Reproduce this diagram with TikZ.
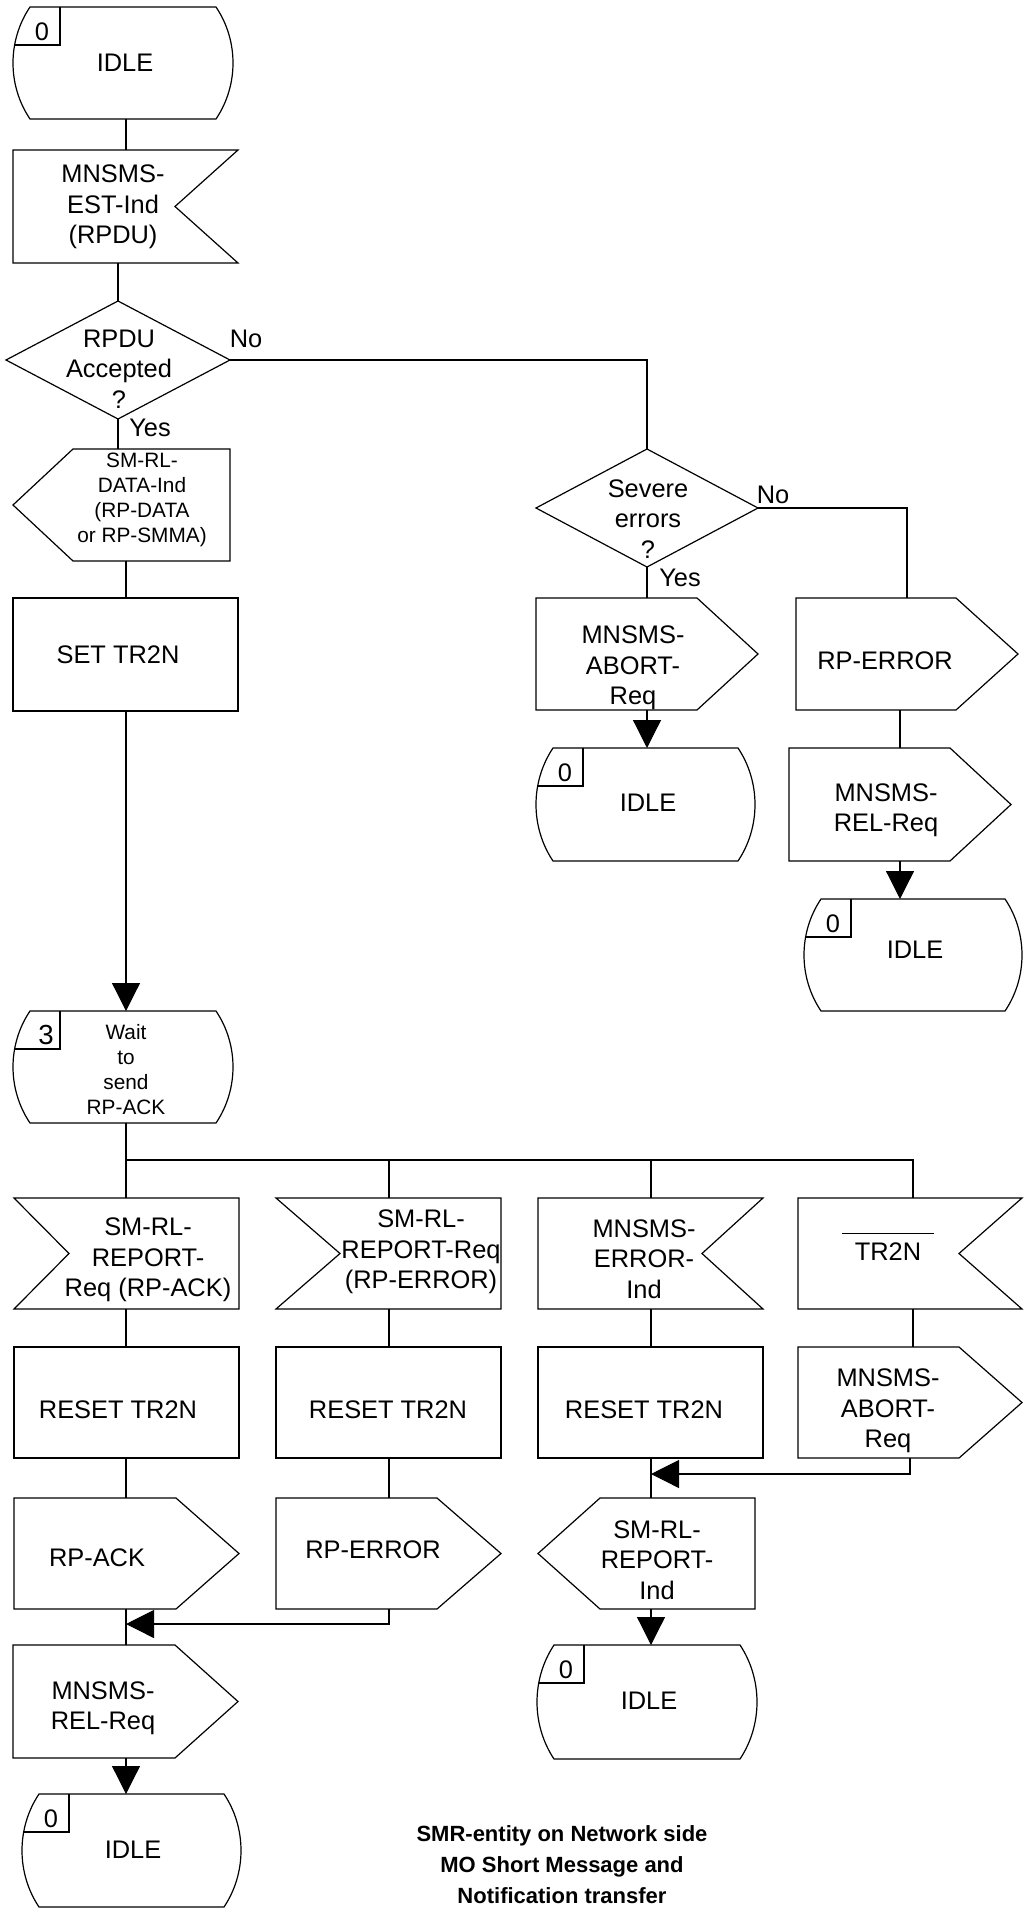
\documentclass[tikz,border=0pt]{standalone}
\usepackage{fontspec}
\setmainfont{Liberation Sans}
\usetikzlibrary{arrows.meta}
\tikzset{
 ln/.style={line width=0.6pt, line join=miter},
 shp/.style={draw=none, inner sep=0pt, outer sep=0pt, rectangle},
 txt/.style={inner sep=0pt, align=center, font=\fontsize{12.7}{15.2}\selectfont},
 smalltxt/.style={inner sep=0pt, align=center, font=\fontsize{10.4}{12.5}\selectfont},
 titletxt/.style={inner sep=0pt, align=center, font=\bfseries\fontsize{11}{15.5}\selectfont},
 bignum/.style={font=\fontsize{13.8}{15}\selectfont, xshift=2pt, yshift=0.5pt},
 conn/.style={line width=0.6pt},
 arr/.style={line width=0.6pt, -{Triangle[length=14pt,width=14pt]}},
}
\newcommand\sdlNode[5]{\node[shp,minimum width={(#4-(#2))*0.5pt},minimum height={(#5-(#3))*0.5pt}] (#1) at ({(#2+#4)/2},{(#3+#5)/2}) {};}
\newcommand\sdlTask[5]{\sdlNode{#1}{#2}{#3}{#4}{#5}\draw[ln] (#1.north west) rectangle (#1.south east);}
\newcommand\sdlOutR[6]{\sdlNode{#1}{#2}{#3}{#4}{#5}\draw[ln] (#1.north west) -- ({#6},{#3}) -- (#1.east) -- ({#6},{#5}) -- (#1.south west) -- cycle;}
\newcommand\sdlOutL[6]{\sdlNode{#1}{#2}{#3}{#4}{#5}\draw[ln] (#1.west) -- ({#6},{#3}) -- (#1.north east) -- (#1.south east) -- ({#6},{#5}) -- cycle;}
\newcommand\sdlInR[6]{\sdlNode{#1}{#2}{#3}{#4}{#5}\draw[ln] (#1.north west) -- (#1.north east) -- ({#6},{(#3+#5)/2}) -- (#1.south east) -- (#1.south west) -- cycle;}
\newcommand\sdlInL[6]{\sdlNode{#1}{#2}{#3}{#4}{#5}\draw[ln] (#1.north west) -- (#1.north east) -- (#1.south east) -- (#1.south west) -- ({#6},{(#3+#5)/2}) -- cycle;}
\newcommand\sdlDec[5]{\sdlNode{#1}{#2}{#3}{#4}{#5}\draw[ln] (#1.north) -- (#1.east) -- (#1.south) -- (#1.west) -- cycle;}
\newcommand\sdlState[7]{%
 \sdlNode{#1}{#2}{#3}{#4}{#5}%
 \draw[ln] ({#2+17},{#3}) -- ({#4-17},{#3})
   .. controls ({#4+17/3},{#3+0.3*(#5-#3)}) and ({#4+17/3},{#5-0.3*(#5-#3)}) .. ({#4-17},{#5})
   -- ({#2+17},{#5})
   .. controls ({#2-17/3},{#5-0.3*(#5-#3)}) and ({#2-17/3},{#3+0.3*(#5-#3)}) .. ({#2+17},{#3}) -- cycle;
 \draw[ln] ({#2+47},{#3}) -- ({#2+47},{#3+38}) -- ({#2+1.5},{#3+38});
 \node[txt,#7] (#1-n) at ({#2+29},{#3+25}) {#6};}
\begin{document}
\begin{tikzpicture}[x=0.5pt,y=-0.5pt]
\fill[white] (0,0) rectangle (1027,1910);
\useasboundingbox (0,0) rectangle (1027,1910);
\coordinate (c118) at (118,0);
\coordinate (c126) at (126,0);
\coordinate (c389) at (389,0);
\coordinate (c651) at (651,0);
\coordinate (c900) at (900,0);
\coordinate (c907) at (907,0);
\coordinate (c910) at (910,0);
\coordinate (c913) at (913,0);
\coordinate (fan) at (126,1160);
\coordinate (m1) at (126,1624);
\coordinate (m3) at (651,1474);

% ---- left column, top
\sdlState{idle1}{13}{7}{233}{119}{0}{}
\node[txt] (idle1-t) at (125,63) {IDLE};
\sdlInR{estind}{13}{150}{238}{263}{175}
\node[txt] (estind-t) at (113,207) {MNSMS-\\EST-Ind\\(RPDU)};
\sdlDec{rpdu}{6}{301}{230}{419}
\node[txt] (rpdu-t) at (119,369) {RPDU\\Accepted\\?};
\node[txt] (no1) at (246,339) {No};
\node[txt] (yes1) at (150,428) {Yes};
\sdlOutL{dataind}{13}{449}{230}{561}{73}
\node[smalltxt] (dataind-t) at (142,500) {SM-RL-\\DATA-Ind\\(RP-DATA\\or RP-SMMA)};
\sdlTask{settr}{13}{598}{238}{711}
\node[txt] (settr-t) at (118,655) {SET TR2N};
\sdlState{wait}{13}{1011}{233}{1123}{3}{bignum}
\node[smalltxt] (wait-t) at (126,1070) {Wait\\to\\send\\RP-ACK};

% ---- right branch
\sdlDec{severe}{536}{449}{758}{567}
\node[txt] (severe-t) at (648,519) {Severe\\errors\\?};
\node[txt] (no2) at (773,495) {No};
\node[txt] (yes2) at (680,578) {Yes};
\sdlOutR{abort1}{536}{598}{758}{710}{697}
\node[txt] (abort1-t) at (633,668) {MNSMS-\\ABORT-\\Req};
\sdlState{idle2}{536}{748}{755}{861}{0}{}
\node[txt] (idle2-t) at (648,803) {IDLE};
\sdlOutR{rperr1}{796}{598}{1018}{710}{956}
\node[txt] (rperr1-t) at (885,661) {RP-ERROR};
\sdlOutR{rel1}{789}{748}{1011}{861}{950}
\node[txt] (rel1-t) at (886,810) {MNSMS-\\REL-Req};
\sdlState{idle3}{804}{899}{1022}{1011}{0}{}
\node[txt] (idle3-t) at (915,950) {IDLE};

% ---- bottom part
\sdlInL{rep1}{14}{1198}{239}{1309}{69}
\node[txt] (rep1-t) at (148,1260) {SM-RL-\\REPORT-\\Req (RP-ACK)};
\sdlInL{rep2}{276}{1198}{501}{1309}{340}
\node[txt] (rep2-t) at (421,1252) {SM-RL-\\REPORT-Req\\(RP-ERROR)};
\sdlInR{errind}{538}{1198}{763}{1309}{702}
\node[txt] (errind-t) at (644,1259) {MNSMS-\\ERROR-\\Ind};
\sdlInR{tmo}{798}{1198}{1022}{1309}{959}
\node[inner sep=0pt, font=\fontsize{12.7}{15.2}\selectfont] (tmo-t) at (888,1247)
  {\setbox0=\hbox{\kern6.2pt TR2N\kern6.2pt}\vbox{\hrule width\wd0 height0.6pt\kern4.5pt\box0}};
\sdlTask{reset1}{14}{1347}{239}{1458}
\node[txt] (reset1-t) at (118,1410) {RESET TR2N};
\sdlTask{reset2}{276}{1347}{501}{1458}
\node[txt] (reset2-t) at (388,1410) {RESET TR2N};
\sdlTask{reset3}{538}{1347}{763}{1458}
\node[txt] (reset3-t) at (644,1410) {RESET TR2N};
\sdlOutR{abort2}{798}{1347}{1022}{1458}{959}
\node[txt] (abort2-t) at (888,1411) {MNSMS-\\ABORT-\\Req};
\sdlOutR{rpack}{14}{1498}{239}{1609}{176}
\node[txt] (rpack-t) at (97,1558) {RP-ACK};
\sdlOutR{rperr2}{276}{1498}{501}{1609}{437}
\node[txt] (rperr2-t) at (373,1550) {RP-ERROR};
\sdlOutL{repind}{538}{1498}{755}{1609}{600}
\node[txt] (repind-t) at (657,1560) {SM-RL-\\REPORT-\\Ind};
\sdlOutR{rel2}{13}{1645}{238}{1758}{175}
\node[txt] (rel2-t) at (103,1708) {MNSMS-\\REL-Req};
\sdlState{idle4}{22}{1794}{241}{1907}{0}{}
\node[txt] (idle4-t) at (133,1850) {IDLE};
\sdlState{idle5}{537}{1645}{757}{1759}{0}{}
\node[txt] (idle5-t) at (649,1701) {IDLE};
\node[titletxt] (title) at (562,1865) {SMR-entity on Network side\\MO Short Message and\\Notification transfer};

% ---- connectors
\draw[conn] (idle1.south -| c126) -- (estind.north -| c126);
\draw[conn] (estind.south -| c118) -- (rpdu.north);
\draw[conn] (rpdu.south) -- (dataind.north -| c118);
\draw[conn] (dataind.south -| c126) -- (settr.north -| c126);
\draw[arr] (settr.south -| c126) -- (wait.north -| c126);
\draw[conn] (rpdu.east) -| (severe.north);
\draw[conn] (severe.east) -| (rperr1.north -| c907);
\draw[conn] (severe.south) -- (abort1.north -| severe.south);
\draw[arr] (abort1.south -| severe.south) -- (idle2.north -| severe.south);
\draw[conn] (rperr1.south -| c900) -- (rel1.north -| c900);
\draw[arr] (rel1.south -| c900) -- (idle3.north -| c900);

\draw[conn] (wait.south -| c126) -- (rep1.north -| c126);
\draw[conn] (fan) -- (fan -| c913) -- (tmo.north -| c913);
\draw[conn] (fan -| c389) -- (rep2.north -| c389);
\draw[conn] (fan -| c651) -- (errind.north -| c651);

\draw[conn] (rep1.south -| c126) -- (reset1.north -| c126);
\draw[conn] (rep2.south -| c389) -- (reset2.north -| c389);
\draw[conn] (errind.south -| c651) -- (reset3.north -| c651);
\draw[conn] (tmo.south -| c913) -- (abort2.north -| c913);

\draw[conn] (reset1.south -| c126) -- (rpack.north -| c126);
\draw[conn] (reset2.south -| c389) -- (rperr2.north -| c389);
\draw[conn] (reset3.south -| c651) -- (repind.north -| c651);
\draw[arr] (abort2.south -| c910) |- (m3);

\draw[arr] (rperr2.south -| c389) |- (m1);
\draw[conn] (rpack.south -| c126) -- (rel2.north -| c126);
\draw[arr] (rel2.south -| c126) -- (idle4.north -| c126);
\draw[arr] (repind.south -| c651) -- (idle5.north -| c651);
\end{tikzpicture}
\end{document}
